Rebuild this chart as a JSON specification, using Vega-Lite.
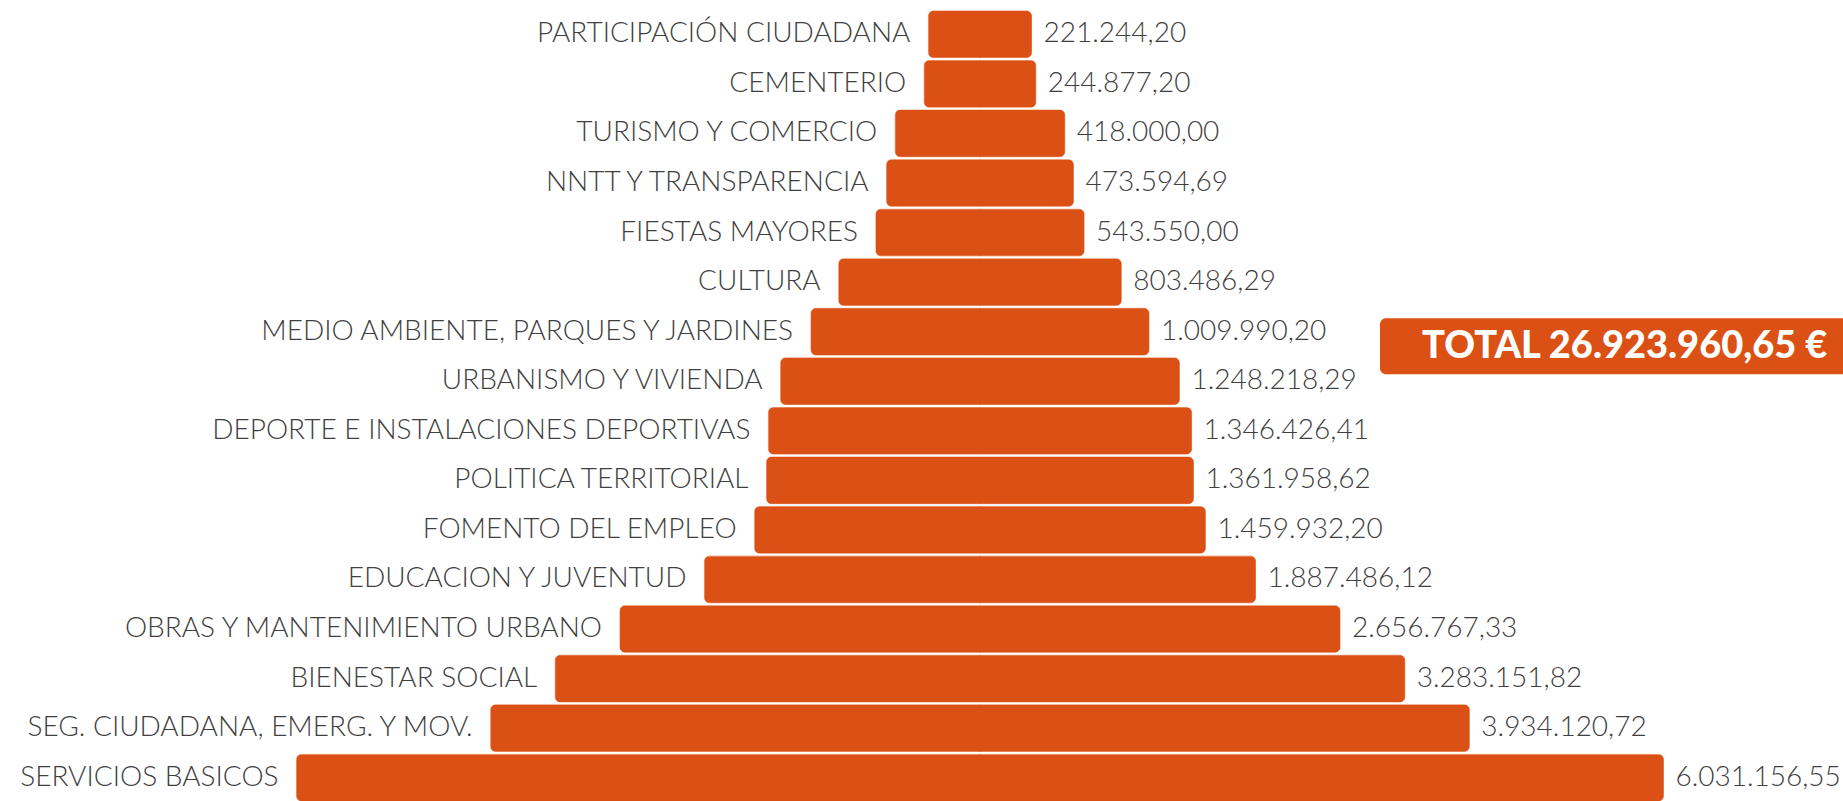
{
  "$schema": "https://vega.github.io/schema/vega-lite/v6.json",
  "width": 1843,
  "height": 790,
  "autosize": "none",
  "padding": {"left": 0, "top": 11, "right": 0, "bottom": 0},
  "background": "white",
  "config": {
    "view": {"stroke": null},
    "locale": {"number": {"decimal": ",", "thousands": ".", "grouping": [3], "currency": ["", " €"]}},
    "text": {"font": "Lato"}
  },
  "datasets": {
    "gasto": [
      {"categoria": "PARTICIPACIÓN CIUDADANA", "importe": 221244.20},
      {"categoria": "CEMENTERIO", "importe": 244877.20},
      {"categoria": "TURISMO Y COMERCIO", "importe": 418000.00},
      {"categoria": "NNTT Y TRANSPARENCIA", "importe": 473594.69},
      {"categoria": "FIESTAS MAYORES", "importe": 543550.00},
      {"categoria": "CULTURA", "importe": 803486.29},
      {"categoria": "MEDIO AMBIENTE, PARQUES Y JARDINES", "importe": 1009990.20},
      {"categoria": "URBANISMO Y VIVIENDA", "importe": 1248218.29},
      {"categoria": "DEPORTE E INSTALACIONES DEPORTIVAS", "importe": 1346426.41},
      {"categoria": "POLITICA TERRITORIAL", "importe": 1361958.62},
      {"categoria": "FOMENTO DEL EMPLEO", "importe": 1459932.20},
      {"categoria": "EDUCACION Y JUVENTUD", "importe": 1887486.12},
      {"categoria": "OBRAS Y MANTENIMIENTO URBANO", "importe": 2656767.33},
      {"categoria": "BIENESTAR SOCIAL", "importe": 3283151.82},
      {"categoria": "SEG. CIUDADANA, EMERG. Y MOV.", "importe": 3934120.72},
      {"categoria": "SERVICIOS BASICOS", "importe": 6031156.55}
    ],
    "total": [
      {"etiqueta": "TOTAL 26.923.960,65 €", "fila": "MEDIO AMBIENTE, PARQUES Y JARDINES"}
    ]
  },
  "data": {"name": "gasto"},
  "encoding": {
    "y": {
      "field": "categoria",
      "type": "nominal",
      "axis": null,
      "scale": {
        "domain": ["PARTICIPACIÓN CIUDADANA", "CEMENTERIO", "TURISMO Y COMERCIO", "NNTT Y TRANSPARENCIA", "FIESTAS MAYORES", "CULTURA", "MEDIO AMBIENTE, PARQUES Y JARDINES", "URBANISMO Y VIVIENDA", "DEPORTE E INSTALACIONES DEPORTIVAS", "POLITICA TERRITORIAL", "FOMENTO DEL EMPLEO", "EDUCACION Y JUVENTUD", "OBRAS Y MANTENIMIENTO URBANO", "BIENESTAR SOCIAL", "SEG. CIUDADANA, EMERG. Y MOV.", "SERVICIOS BASICOS"],
        "paddingInner": 0.06,
        "paddingOuter": -0.07,
        "align": 0,
        "round": false
      }
    }
  },
  "layer": [
    {
      "encoding": {
        "x": {
          "field": "importe",
          "type": "quantitative",
          "axis": null,
          "scale": {"type": "pow", "exponent": 0.782, "domain": [-8126970, 9561900], "reverse": true, "nice": false, "zero": false}
        }
      },
      "layer": [
        {
          "mark": {"type": "bar", "color": "#DB5014", "cornerRadiusTopLeft": 5, "cornerRadiusBottomLeft": 5, "stroke": "#DB5014", "strokeWidth": 0.6}
        },
        {
          "mark": {"type": "text", "align": "right", "baseline": "middle", "dx": -18, "fontSize": 28, "fontWeight": 300, "color": "#3f3f3f"},
          "encoding": {"text": {"field": "categoria"}}
        }
      ]
    },
    {
      "encoding": {
        "x": {
          "field": "importe",
          "type": "quantitative",
          "axis": null,
          "scale": {"type": "pow", "exponent": 0.782, "domain": [-9561900, 8126970], "nice": false, "zero": false}
        }
      },
      "layer": [
        {
          "mark": {"type": "bar", "color": "#DB5014", "cornerRadiusTopRight": 5, "cornerRadiusBottomRight": 5, "stroke": "#DB5014", "strokeWidth": 0.6}
        },
        {
          "mark": {"type": "text", "align": "left", "baseline": "middle", "dx": 12, "fontSize": 28, "fontWeight": 300, "color": "#3f3f3f"},
          "encoding": {"text": {"field": "importe", "type": "quantitative", "format": ",.2f"}}
        }
      ]
    },
    {
      "data": {"name": "total"},
      "encoding": {
        "y": {"field": "fila", "type": "nominal"}
      },
      "layer": [
        {
          "mark": {"type": "bar", "color": "#DB5014", "height": 56, "yOffset": 14.5, "cornerRadius": 6},
          "encoding": {
            "x": {"datum": 3040000, "type": "quantitative", "axis": null, "scale": {"type": "pow", "exponent": 0.782, "domain": [-9561900, 8126970], "nice": false, "zero": false}},
            "x2": {"datum": 9500000}
          }
        },
        {
          "mark": {"type": "text", "align": "left", "baseline": "middle", "dx": 42, "yOffset": 15, "fontSize": 38, "fontWeight": 900, "color": "white"},
          "encoding": {
            "x": {"datum": 3040000, "type": "quantitative", "axis": null, "scale": {"type": "pow", "exponent": 0.782, "domain": [-9561900, 8126970], "nice": false, "zero": false}},
            "text": {"field": "etiqueta"}
          }
        }
      ]
    }
  ],
  "resolve": {"scale": {"x": "independent"}}
}
